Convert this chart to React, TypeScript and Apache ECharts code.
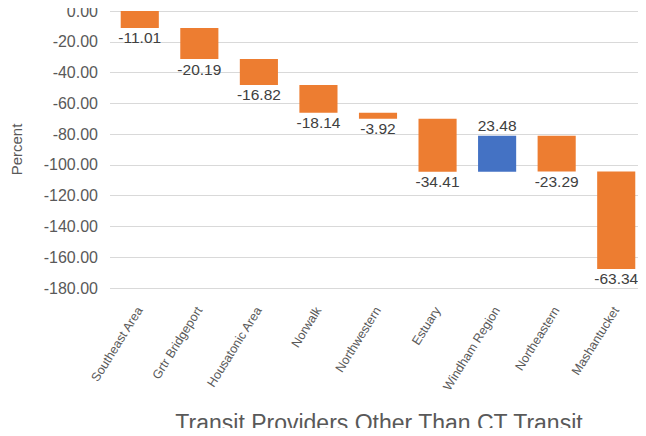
import React, { useEffect, useRef } from "react";
import * as echarts from "echarts";

const categories = [
  "Southeast Area",
  "Grtr Bridgeport",
  "Housatonic Area",
  "Norwalk",
  "Northwestern",
  "Estuary",
  "Windham Region",
  "Northeastern",
  "Mashantucket",
];
const changes = [-11.01, -20.19, -16.82, -18.14, -3.92, -34.41, 23.48, -23.29, -63.34];
const yTicks = { min: -180, max: 0, interval: 20 };
const xTitle = "Transit Providers Other Than CT Transit";

const FONT = "Liberation Sans, Arial, sans-serif";

export default function App() {
  const ref = useRef<HTMLDivElement>(null);
  useEffect(() => {
    if (!ref.current) return;
    const chart = echarts.init(ref.current, undefined, { renderer: "svg" });
    let cum = 0;
    const base: number[] = [];
    const vis: any[] = [];
    changes.forEach((v) => {
      const start = cum;
      const end = cum + v;
      const top = Math.max(start, end);
      const len = Math.abs(v);
      base.push(top);
      vis.push({
        value: -len,
        raw: v,
        itemStyle: { color: v < 0 ? "#ED7D31" : "#4472C4" },
        label: { position: v < 0 ? "bottom" : "top" },
      });
      cum = end;
    });
    chart.setOption({
      animation: false,
      grid: {
        left: 110,
        right: 0,
        top: 11,
        bottom: 148,
        containLabel: false,
        outerBoundsMode: "none",
      },
      graphic: [
        {
          type: "text",
          x: 379,
          y: 423,
          style: {
            text: xTitle,
            fontSize: 23,
            fill: "#595959",
            fontFamily: FONT,
            align: "center",
            verticalAlign: "middle",
          },
        },
      ],
      xAxis: {
        type: "category",
        data: categories,
        position: "bottom",
        axisLine: { show: false },
        axisTick: { show: false },
        axisLabel: {
          rotate: 58,
          fontSize: 12.5,
          color: "#595959",
          margin: 20,
          fontFamily: FONT,
          interval: 0,
        },
      },
      yAxis: {
        type: "value",
        min: yTicks.min,
        max: yTicks.max,
        interval: yTicks.interval,
        axisLabel: {
          formatter: (v: number) => v.toFixed(2),
          fontSize: 16,
          color: "#595959",
          margin: 12,
          fontFamily: FONT,
        },
        splitLine: { lineStyle: { color: "#D9D9D9" } },
        axisLine: { show: false },
        axisTick: { show: false },
        name: "Percent",
        nameLocation: "middle",
        nameGap: 86,
        nameTextStyle: {
          fontSize: 15,
          color: "#595959",
          fontFamily: FONT,
        },
      },
      series: [
        {
          type: "bar",
          stack: "w",
          data: base,
          itemStyle: { color: "transparent" },
          barWidth: "64%",
          silent: true,
        },
        {
          type: "bar",
          stack: "w",
          data: vis,
          barWidth: "64%",
          label: {
            show: true,
            fontSize: 15.5,
            color: "#404040",
            distance: 2,
            fontFamily: FONT,
            formatter: (p: any) => p.data.raw.toFixed(2),
          },
        },
      ],
    });
    return () => chart.dispose();
  }, []);
  return <div ref={ref} style={{ width: 646, height: 436, margin: -8 }} />;
}
